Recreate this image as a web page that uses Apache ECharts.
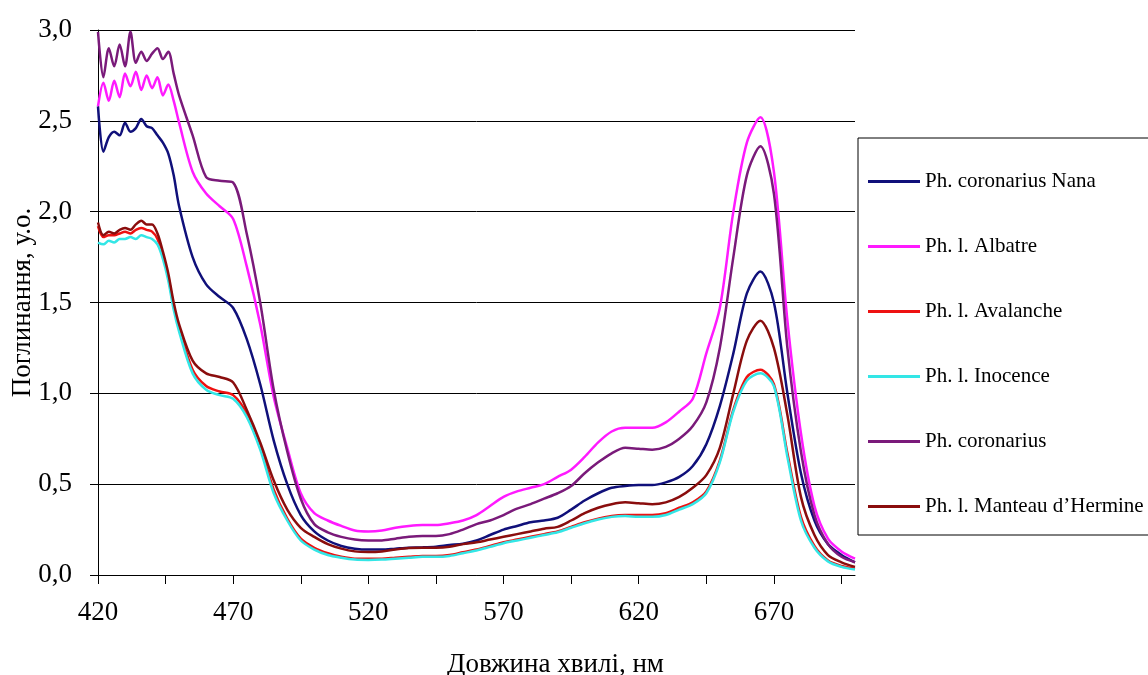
<!DOCTYPE html>
<html>
<head>
<meta charset="utf-8">
<script src="https://cdn.jsdelivr.net/npm/echarts@6/dist/echarts.min.js"></script>
<style>
html,body{margin:0;padding:0;background:#fff;}
#chart{width:1148px;height:675px;}
</style>
</head>
<body>
<div id="chart"></div>
<script>
// довжини хвиль, нм
var wl = [420,422,424,426,428,430,432,434,436,438,440,442,444,446,448,450,
  455,460,465,470,475,480,485,490,495,500,
  505,510,515,520,525,530,535,540,545,550,
  555,560,565,570,575,580,585,590,595,600,
  605,610,615,620,625,630,635,640,645,650,
  655,660,665,670,675,680,685,690,695,700];

var nana = [2.58,2.33,2.41,2.44,2.42,2.49,2.44,2.46,2.51,2.47,2.46,2.42,2.38,2.32,2.20,2.03,
  1.75,1.60,1.53,1.47,1.30,1.05,0.74,0.50,0.33,0.24,
  0.19,0.16,0.145,0.14,0.14,0.145,0.15,0.152,0.156,0.165,
  0.172,0.19,0.22,0.25,0.27,0.29,0.30,0.315,0.36,0.41,
  0.45,0.48,0.49,0.495,0.495,0.51,0.54,0.60,0.72,0.93,
  1.22,1.55,1.67,1.50,1.00,0.56,0.30,0.17,0.11,0.07];

var albatre = [2.58,2.71,2.61,2.72,2.63,2.76,2.69,2.77,2.67,2.75,2.68,2.74,2.64,2.70,2.61,2.49,
  2.22,2.10,2.03,1.96,1.70,1.38,0.98,0.70,0.45,0.34,
  0.30,0.27,0.245,0.24,0.245,0.26,0.27,0.275,0.275,0.285,
  0.30,0.33,0.38,0.43,0.46,0.48,0.50,0.54,0.58,0.65,
  0.73,0.79,0.81,0.81,0.81,0.84,0.90,0.97,1.22,1.47,
  2.00,2.38,2.52,2.22,1.40,0.78,0.38,0.20,0.13,0.09];

var avalanche = [1.92,1.86,1.87,1.87,1.88,1.89,1.88,1.90,1.91,1.90,1.89,1.85,1.76,1.64,1.48,1.36,
  1.13,1.04,1.01,0.99,0.89,0.71,0.47,0.31,0.20,0.15,
  0.12,0.10,0.09,0.09,0.09,0.095,0.10,0.105,0.105,0.11,
  0.125,0.14,0.16,0.18,0.195,0.21,0.225,0.24,0.265,0.29,
  0.31,0.325,0.33,0.33,0.33,0.34,0.37,0.40,0.46,0.63,
  0.91,1.09,1.13,1.05,0.67,0.32,0.16,0.08,0.05,0.035];

var inocence = [1.83,1.82,1.84,1.83,1.85,1.85,1.86,1.85,1.87,1.86,1.85,1.82,1.74,1.62,1.46,1.34,
  1.11,1.02,0.99,0.97,0.87,0.69,0.45,0.30,0.19,0.14,
  0.11,0.095,0.085,0.083,0.085,0.09,0.095,0.10,0.10,0.105,
  0.12,0.135,0.155,0.175,0.19,0.205,0.22,0.235,0.26,0.285,
  0.305,0.32,0.325,0.32,0.32,0.33,0.36,0.39,0.45,0.62,
  0.90,1.07,1.11,1.04,0.65,0.30,0.15,0.075,0.045,0.03];

var coronarius = [2.99,2.74,2.90,2.80,2.92,2.80,2.99,2.82,2.88,2.83,2.87,2.90,2.84,2.88,2.76,2.64,
  2.42,2.19,2.17,2.16,1.88,1.50,1.02,0.68,0.42,0.28,
  0.235,0.21,0.195,0.19,0.19,0.20,0.21,0.215,0.215,0.225,
  0.25,0.28,0.30,0.33,0.365,0.39,0.42,0.45,0.49,0.56,
  0.62,0.67,0.70,0.695,0.69,0.705,0.75,0.82,0.95,1.25,
  1.75,2.20,2.36,2.10,1.25,0.68,0.33,0.17,0.10,0.07];

var manteau = [1.94,1.87,1.89,1.88,1.90,1.91,1.90,1.93,1.95,1.93,1.93,1.88,1.78,1.66,1.50,1.38,
  1.18,1.11,1.09,1.06,0.91,0.73,0.52,0.36,0.26,0.21,
  0.17,0.145,0.13,0.127,0.13,0.14,0.148,0.15,0.15,0.155,
  0.17,0.18,0.195,0.21,0.225,0.24,0.255,0.265,0.30,0.34,
  0.37,0.39,0.40,0.395,0.39,0.40,0.43,0.48,0.55,0.70,
  1.00,1.29,1.40,1.25,0.88,0.43,0.22,0.11,0.07,0.045];

var names = ['Ph. coronarius Nana','Ph. l. Albatre','Ph. l. Avalanche','Ph. l. Inocence','Ph. coronarius','Ph. l. Manteau d\u2019Hermine'];
var colors = ['#10107a','#ff1aff','#ee1111','#33e6e6','#7a1a7a','#8a0d0d'];
var values = [nana, albatre, avalanche, inocence, coronarius, manteau];

var xTicks = [420,445,470,495,520,545,570,595,620,645,670,695];
var xLabels = [420,470,520,570,620,670];

var font = 'Liberation Serif, Times New Roman, serif';

var series = [];
for (var i = 0; i < names.length; i++) {
  var d = [];
  for (var j = 0; j < wl.length; j++) d.push([wl[j], values[i][j]]);
  series.push({
    name: names[i],
    type: 'line',
    data: d,
    symbol: 'none',
    smooth: 0.3,
    lineStyle: {color: colors[i], width: 2.5},
    itemStyle: {color: colors[i]}
  });
}

var chart = echarts.init(document.getElementById('chart'));
chart.setOption({
  animation: false,
  backgroundColor: '#fff',
  grid: {left: 98, right: 293, top: 30, bottom: 100, containLabel: false, outerBoundsMode: 'none'},
  legend: {
    orient: 'vertical',
    left: 858,
    top: 138,
    padding: [33, 60, 18, 10],
    itemGap: 44,
    itemWidth: 52,
    itemHeight: 3,
    icon: 'rect',
    borderColor: '#000',
    borderWidth: 1,
    textStyle: {fontFamily: font, fontSize: 21, color: '#000'},
    data: names
  },
  xAxis: {
    type: 'value',
    min: 420,
    max: 700,
    name: 'Довжина хвилі, нм',
    nameLocation: 'middle',
    nameGap: 76,
    nameMoveOverlap: false,
    nameTextStyle: {fontFamily: font, fontSize: 27, color: '#000', padding: [0, 0, 0, 158]},
    axisLine: {lineStyle: {color: '#000', width: 1}},
    axisTick: {customValues: xTicks, length: 9, lineStyle: {color: '#000'}},
    axisLabel: {customValues: xLabels, margin: 24, fontFamily: font, fontSize: 27, color: '#000'},
    splitLine: {show: false}
  },
  yAxis: {
    type: 'value',
    min: 0,
    max: 3,
    interval: 0.5,
    name: 'Поглинання, у.о.',
    nameLocation: 'middle',
    nameGap: 62,
    nameMoveOverlap: false,
    nameTextStyle: {fontFamily: font, fontSize: 27, color: '#000'},
    axisLine: {show: true, lineStyle: {color: '#000', width: 1}},
    axisTick: {show: true, length: 8, lineStyle: {color: '#000'}},
    axisLabel: {
      margin: 26,
      fontFamily: font, fontSize: 27, color: '#000',
      formatter: function (v) { return v.toFixed(1).replace('.', ','); }
    },
    splitLine: {lineStyle: {color: '#000', width: 1}}
  },
  series: series
});
</script>
</body>
</html>
